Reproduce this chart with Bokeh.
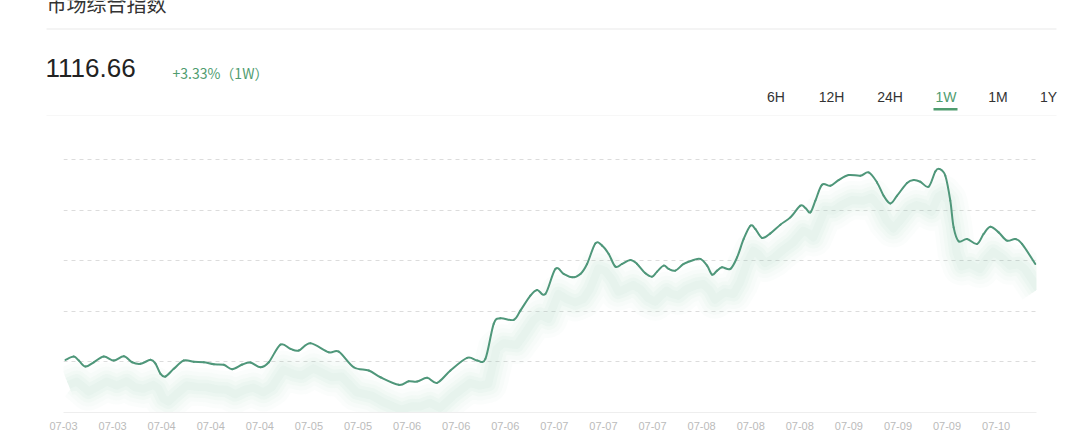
import numpy as np
from bokeh.plotting import figure
from bokeh.layouts import column
from bokeh.models import Range1d, FixedTicker
from bokeh.core.properties import value
from bokeh.embed import file_html
from bokeh.resources import INLINE

# ---------------- data ----------------
title_text = "市场综合指数"
last_price = "1116.66"
change_text = "+3.33%（1W）"
tabs = ["6H", "12H", "24H", "1W", "1M", "1Y"]
active_tab = "1W"
tick_labels = ["07-03", "07-03", "07-04", "07-04", "07-04", "07-05", "07-05",
               "07-06", "07-06", "07-06", "07-07", "07-07", "07-07", "07-08",
               "07-08", "07-08", "07-09", "07-09", "07-09", "07-10"]
tick_step_hours = 8.4
grid_values = [1080, 1100, 1120, 1140, 1160]

hours = [0.34, 1.76, 2.62, 3.76, 5.18, 6.90, 8.61, 10.32, 11.75, 13.17,
         14.89, 15.74, 16.60, 17.45, 18.87, 20.58, 22.29, 24.01, 25.72, 27.43,
         28.86, 30.58, 32.00, 33.71, 35.13, 37.13, 38.84, 40.26, 42.26, 45.39,
         47.10, 49.67, 52.24, 54.24, 57.37, 59.08, 60.52, 62.23, 63.94, 66.22,
         69.07, 70.78, 72.20, 73.62, 74.77, 77.05, 78.19, 79.90, 81.05, 82.47,
         84.18, 85.60, 87.04, 88.46, 89.60, 91.03, 92.17, 93.30, 94.45, 95.59,
         97.01, 98.16, 99.58, 100.73, 101.58, 102.71, 103.57, 104.71, 106.13, 107.84,
         108.99, 110.14, 110.99, 111.85, 112.70, 114.12, 115.27, 116.40, 117.55, 118.40,
         119.55, 120.97, 122.68, 124.39, 126.10, 126.96, 127.81, 128.67, 129.81, 131.23,
         132.65, 134.36, 136.37, 137.79, 139.22, 140.35, 141.50, 142.65, 144.36, 145.49,
         146.63, 148.05, 149.20, 149.93, 150.91, 151.76, 152.33, 153.19, 154.62, 156.33,
         157.46, 158.61, 160.03, 161.47, 162.89, 164.03, 166.31]

index_values = [1080.83, 1082.14, 1080.56, 1078.18, 1079.88, 1082.14, 1080.56, 1082.26, 1079.88, 1079.25,
                1080.83, 1079.37, 1075.30, 1074.23, 1077.27, 1080.56, 1080.04, 1079.88, 1079.09, 1078.86,
                1077.12, 1078.97, 1079.77, 1077.91, 1079.88, 1086.88, 1085.18, 1084.51, 1087.39, 1083.84,
                1084.11, 1077.91, 1076.60, 1073.95, 1070.95, 1072.37, 1072.25, 1073.72, 1071.74, 1076.60,
                1081.62, 1080.56, 1081.23, 1095.06, 1097.28, 1096.64, 1100.32, 1106.25, 1108.50, 1106.92,
                1116.80, 1114.83, 1113.48, 1114.83, 1118.78, 1126.92, 1126.02, 1122.73, 1117.71, 1118.78,
                1120.36, 1118.78, 1115.07, 1113.76, 1115.74, 1118.11, 1116.80, 1116.13, 1118.78, 1120.36,
                1120.76, 1118.11, 1114.55, 1116.13, 1117.44, 1116.80, 1121.39, 1128.66, 1133.92, 1132.62,
                1129.06, 1130.88, 1134.32, 1137.20, 1141.83, 1140.92, 1139.18, 1143.80, 1150.13, 1149.73,
                1151.99, 1153.96, 1153.69, 1154.99, 1151.04, 1145.78, 1142.74, 1145.78, 1150.80, 1151.99,
                1151.31, 1149.34, 1155.39, 1156.33, 1153.69, 1143.80, 1133.25, 1127.72, 1128.66, 1126.69,
                1130.64, 1133.53, 1131.27, 1127.99, 1128.66, 1126.69, 1118.78]

# ---------------- styles ----------------
LINE = "#4f977a"
GREEN_TXT = "#4f9c6f"
LATIN = "Liberation Sans"
CJK = "Noto Sans CJK SC"
W = 1080
HEADER_H = 116

x = np.array(hours, dtype=float)
y = np.array(index_values, dtype=float)


def bezier_parts(xa, ya, k=1.0 / 6.0):
    xp = np.concatenate([[xa[0]], xa, [xa[-1]]])
    yp = np.concatenate([[ya[0]], ya, [ya[-1]]])
    cx0 = xa[:-1] + (xp[2:-1] - xp[:-3]) * k
    cy0 = ya[:-1] + (yp[2:-1] - yp[:-3]) * k
    cx1 = xa[1:] - (xp[3:] - xp[1:-2]) * k
    cy1 = ya[1:] - (yp[3:] - yp[1:-2]) * k
    return dict(x0=xa[:-1], y0=ya[:-1], x1=xa[1:], y1=ya[1:],
                cx0=cx0, cy0=cy0, cx1=cx1, cy1=cy1)


# ---------------- header figure (pixel-like coordinates, y downwards) ----------------
h = figure(width=W, height=HEADER_H, x_range=Range1d(0, W), y_range=Range1d(HEADER_H, 0),
           output_backend="svg", toolbar_location=None,
           min_border=0, min_border_left=0, min_border_right=0,
           min_border_top=0, min_border_bottom=0)
h.frame_align = False
h.axis.visible = False
h.grid.visible = False
h.outline_line_color = None
h.background_fill_color = "white"
h.border_fill_color = "white"


def htext(text, px, py, size, color, font, align="left", baseline="middle"):
    h.text(x=[px], y=[py], text=[text], text_font=value(font), text_font_size=size,
           text_color=color, text_align=align, text_baseline=baseline)


htext(title_text, 46, 3, "20px", "#333333", CJK)
h.segment(x0=[46], y0=[28.5], x1=[1056], y1=[28.5], line_color="#e9e9e9", line_width=1)
htext(last_price, 45, 67, "26px", "#222222", LATIN)
htext(change_text, 172, 72, "14px", GREEN_TXT, CJK)
tab_centers = [775.5, 831, 889.5, 945.5, 997.5, 1048]
for t, cx in zip(tabs, tab_centers):
    htext(t, cx, 96, "14px", GREEN_TXT if t == active_tab else "#333333", LATIN, align="center")
h.segment(x0=[933], y0=[108.7], x1=[957], y1=[108.7], line_color=GREEN_TXT, line_width=2.5)
h.segment(x0=[46], y0=[115.5], x1=[1056], y1=[115.5], line_color="#eeeeee", line_width=1)

# ---------------- chart figure ----------------
p = figure(width=W, height=319,
           x_range=Range1d(0, x[-1] + 0.2), y_range=Range1d(1060, 1170),
           output_backend="svg", toolbar_location=None,
           min_border_left=63, min_border_right=44,
           min_border_top=18, min_border_bottom=23)
p.frame_align = False
p.background_fill_color = "white"
p.border_fill_color = "white"
p.outline_line_color = None

tick_pos = [round(i * tick_step_hours, 2) for i in range(len(tick_labels))]
p.xaxis.ticker = FixedTicker(ticks=tick_pos)
p.xaxis.major_label_overrides = {t: lab for t, lab in zip(tick_pos, tick_labels)}
p.xaxis.axis_line_color = "#eeeeee"
p.xaxis.major_tick_line_color = None
p.xaxis.minor_tick_line_color = None
p.xaxis.major_tick_out = 0
p.xaxis.minor_tick_out = 0
p.xaxis.major_label_standoff = 9
p.xaxis.major_label_text_font = LATIN
p.xaxis.major_label_text_font_size = "11px"
p.xaxis.major_label_text_color = "#bbbbbb"
p.yaxis.visible = False
p.xgrid.visible = False
p.ygrid.ticker = FixedTicker(ticks=grid_values)
p.ygrid.grid_line_color = "#dcdcdc"
p.ygrid.grid_line_dash = "4 4"
p.ygrid.grid_line_width = 1

# soft shadow under the line (single paths through the data points)
drop = 9.9
for w, a in [(38, 0.03), (30, 0.035), (22, 0.045), (15, 0.05), (8, 0.05)]:
    p.line(x=x + 0.5, y=y - drop, line_color="#86cbab", line_width=w, line_alpha=a,
           line_join="round", line_cap="butt")

# main line
p.bezier(line_color=LINE, line_width=2, line_cap="round", **bezier_parts(x, y))

layout = column(h, p, spacing=0)
layout.margin = (0, 0, -5, 0)

open("out.html", "w").write(file_html(layout, INLINE))
